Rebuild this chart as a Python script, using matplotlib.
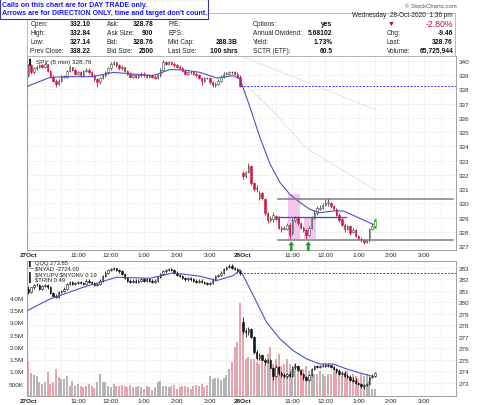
import numpy as np
import matplotlib.pyplot as plt

W, H = 480, 406

# ---------------- SPY 5 min (27 Oct, 78 bars) ----------------
spy1_open = [339.0, 339.7, 339.2, 339.5, 339.6, 339.7, 339.6, 339.8, 339.3, 338.9,
             338.6, 338.4, 338.6, 338.9, 338.9, 339.3, 339.6, 339.4, 339.1, 339.2,
             339.0, 339.3, 339.4, 339.2, 339.0, 338.7, 338.5, 338.8, 339.0, 339.2,
             339.5, 339.8, 339.9, 339.7, 339.5, 339.6, 339.3, 339.1, 338.9, 339.0,
             338.9, 339.0, 339.1, 339.0, 338.9, 339.0, 338.9, 338.8, 339.0, 339.4,
             339.9, 339.8, 339.9, 339.8, 339.7, 339.6, 339.5, 339.3, 339.1, 339.2,
             339.2, 339.1, 339.0, 338.8, 338.6, 338.8, 338.8, 338.5, 338.3, 338.4,
             338.6, 338.9, 339.1, 339.1, 339.2, 339.2, 339.1, 338.9]
spy1_high = [339.8, 339.8, 339.6, 339.7, 339.8, 339.8, 339.9, 339.8, 339.4, 339.0,
             338.7, 338.7, 339.0, 339.0, 339.4, 339.7, 339.6, 339.5, 339.3, 339.3,
             339.4, 339.5, 339.5, 339.3, 339.1, 338.8, 338.9, 339.1, 339.3, 339.6,
             339.9, 340.0, 339.9, 339.8, 339.7, 339.6, 339.4, 339.2, 339.1, 339.1,
             339.1, 339.2, 339.2, 339.1, 339.1, 339.1, 339.0, 339.1, 339.5, 340.05,
             340.0, 340.0, 340.0, 339.9, 339.8, 339.7, 339.6, 339.4, 339.3, 339.3,
             339.3, 339.2, 339.1, 338.9, 338.9, 338.9, 338.9, 338.6, 338.5, 338.7,
             339.0, 339.2, 339.2, 339.3, 339.3, 339.3, 339.2, 339.0]
spy1_low = [338.9, 339.1, 339.1, 339.4, 339.5, 339.5, 339.5, 339.2, 338.8, 338.5,
            338.2, 338.3, 338.5, 338.8, 338.8, 339.2, 339.3, 339.0, 339.0, 338.9,
            338.9, 339.2, 339.1, 338.9, 338.6, 338.2, 338.4, 338.7, 338.9, 339.1,
            339.4, 339.7, 339.6, 339.4, 339.4, 339.2, 339.0, 338.8, 338.8, 338.8,
            338.8, 338.9, 338.9, 338.8, 338.8, 338.8, 338.7, 338.7, 338.9, 339.3,
            339.7, 339.7, 339.7, 339.6, 339.5, 339.4, 339.2, 339.0, 339.0, 339.1,
            339.0, 338.9, 338.7, 338.3, 338.5, 338.7, 338.4, 338.15, 338.2, 338.3,
            338.5, 338.8, 339.0, 339.0, 339.1, 339.0, 338.8, 338.2]
spy1_close = [339.7, 339.2, 339.5, 339.6, 339.7, 339.6, 339.8, 339.3, 338.9, 338.6,
              338.4, 338.6, 338.9, 338.9, 339.3, 339.6, 339.4, 339.1, 339.2, 339.0,
              339.3, 339.4, 339.2, 339.0, 338.7, 338.5, 338.8, 339.0, 339.2, 339.5,
              339.8, 339.9, 339.7, 339.5, 339.6, 339.3, 339.1, 338.9, 339.0, 338.9,
              339.0, 339.1, 339.0, 338.9, 339.0, 338.9, 338.8, 339.0, 339.4, 339.9,
              339.8, 339.9, 339.8, 339.7, 339.6, 339.5, 339.3, 339.1, 339.2, 339.2,
              339.1, 339.0, 338.8, 338.6, 338.8, 338.8, 338.5, 338.3, 338.4, 338.6,
              338.9, 339.1, 339.1, 339.2, 339.2, 339.1, 338.9, 338.22]

# ---------------- SPY 5 min (28 Oct, 49 bars up to 1:36 pm) ----------------
spy2_open = [332.1, 331.9, 332.2, 332.6, 331.4, 331.0, 330.4, 330.7, 330.3, 329.3,
             328.8, 328.9, 329.1, 329.0, 328.3, 328.2, 328.2, 328.5, 327.9, 328.8,
             329.0, 328.6, 328.3, 328.1, 327.8, 328.3, 329.0, 329.3, 329.6, 329.7,
             329.9, 330.0, 330.0, 329.8, 329.6, 329.2, 328.9, 328.5, 328.2, 328.4,
             328.0, 328.1, 327.7, 327.5, 327.4, 327.3, 327.4, 328.2, 328.4]
spy2_high = [332.3, 332.3, 332.84, 332.7, 331.5, 331.3, 330.9, 330.8, 330.4, 329.4,
             329.1, 329.4, 329.2, 329.1, 328.4, 328.4, 328.6, 328.6, 329.0, 329.1,
             329.1, 328.7, 328.4, 328.2, 328.4, 329.1, 329.5, 329.8, 329.9, 330.0,
             330.3, 330.4, 330.1, 329.9, 329.7, 329.3, 329.0, 328.6, 328.5, 328.5,
             328.3, 328.2, 327.8, 327.6, 327.5, 327.5, 328.3, 328.6, 328.9]
spy2_low = [331.7, 331.8, 332.1, 331.3, 330.9, 330.8, 330.2, 330.2, 329.2, 328.6,
            328.7, 328.7, 328.8, 328.2, 328.0, 328.1, 328.1, 327.5, 327.8, 328.7,
            328.5, 328.2, 328.0, 327.5, 327.7, 328.2, 328.9, 329.2, 329.5, 329.6,
            329.8, 329.8, 329.7, 329.5, 329.1, 328.7, 328.4, 328.0, 328.1, 327.8,
            327.9, 327.6, 327.4, 327.3, 327.14, 327.2, 327.3, 328.1, 328.3]
spy2_close = [331.9, 332.2, 332.6, 331.4, 331.0, 331.1, 330.7, 330.4, 329.3, 328.8,
              329.0, 329.2, 328.9, 328.3, 328.2, 328.3, 328.5, 327.8, 328.8, 329.0,
              328.6, 328.3, 328.1, 327.8, 328.3, 329.0, 329.3, 329.7, 329.7, 329.9,
              330.0, 330.1, 329.8, 329.6, 329.2, 328.8, 328.5, 328.2, 328.4, 327.9,
              328.1, 327.7, 327.5, 327.4, 327.3, 327.4, 328.2, 328.4, 328.76]

# moving average of SPY (bar position, price)
spy_ma_x = [-0.4, 7.9, 13.9, 23.6, 30.9, 38.2, 45.4, 51.5, 56.4, 62.4, 68.5, 74.5,
            77.0, 80.6, 84.2, 87.9, 91.5, 95.1, 98.8, 102.4, 106.0, 110.9, 114.5,
            118.2, 121.8, 125.4]
spy_ma_y = [338.22, 338.85, 338.9, 338.9, 339.2, 339.08, 338.97, 339.4, 339.37, 339.2,
            338.8, 338.97, 338.73, 336.74, 334.63, 332.75, 331.46, 330.63, 330.05,
            329.58, 329.34, 329.46, 329.46, 329.15, 328.83, 328.52]
# faint lines in the SPY panel
faint1_x = [77.0, 126.6]
faint1_y = [340.38, 336.55]
faint2_x = [77.0, 89.1, 101.2, 113.3, 126.6]
faint2_y = [338.73, 336.44, 333.85, 332.44, 330.92]

# ---------------- QQQ 5 min ----------------
qqq1_open = [281.2, 280.9, 281.3, 281.5, 281.5, 281.2, 281.4, 281.5, 281.3, 280.8,
             280.6, 280.5, 280.9, 281.0, 281.2, 281.6, 281.8, 281.6, 281.7, 281.8,
             281.7, 281.6, 281.9, 281.8, 281.7, 281.5, 281.6, 281.9, 282.3, 282.6,
             282.8, 282.9, 283.0, 282.8, 282.7, 282.5, 282.1, 281.9, 281.8, 281.9,
             281.8, 281.9, 282.0, 281.9, 282.0, 281.9, 281.8, 281.9, 282.2, 282.5,
             282.7, 282.8, 282.9, 282.8, 282.6, 282.4, 282.3, 282.1, 282.0, 282.1,
             282.0, 281.9, 281.8, 281.9, 281.8, 281.7, 281.6, 281.7, 282.0, 282.3,
             282.4, 282.6, 282.9, 283.1, 283.2, 283.0, 282.9, 282.7]
qqq1_high = [281.4, 281.3, 281.6, 281.7, 281.6, 281.5, 281.6, 281.6, 281.4, 280.9,
             280.7, 281.0, 281.1, 281.3, 281.7, 281.9, 281.9, 281.8, 281.9, 281.9,
             281.8, 282.0, 282.0, 281.9, 281.8, 281.7, 282.0, 282.4, 282.7, 282.9,
             283.0, 283.1, 283.0, 282.9, 282.8, 282.6, 282.2, 282.0, 282.0, 282.0,
             282.0, 282.1, 282.1, 282.1, 282.1, 282.0, 282.0, 282.3, 282.6, 282.8,
             282.9, 283.0, 283.0, 282.9, 282.7, 282.5, 282.4, 282.2, 282.2, 282.2,
             282.1, 282.0, 282.0, 282.0, 281.9, 281.8, 281.8, 282.1, 282.4, 282.5,
             282.7, 283.0, 283.2, 283.3, 283.3, 283.1, 283.0, 282.8]
qqq1_low = [280.7, 280.8, 281.2, 281.4, 281.1, 281.1, 281.3, 281.2, 280.7, 280.5,
            280.35, 280.4, 280.8, 280.9, 281.1, 281.5, 281.5, 281.5, 281.6, 281.6,
            281.5, 281.5, 281.7, 281.6, 281.4, 281.4, 281.5, 281.8, 282.2, 282.5,
            282.7, 282.8, 282.7, 282.6, 282.4, 282.0, 281.8, 281.7, 281.7, 281.7,
            281.7, 281.8, 281.8, 281.8, 281.8, 281.7, 281.7, 281.8, 282.1, 282.4,
            282.6, 282.7, 282.7, 282.5, 282.3, 282.2, 282.0, 281.9, 281.9, 281.9,
            281.8, 281.7, 281.7, 281.7, 281.6, 281.5, 281.5, 281.6, 281.9, 282.2,
            282.3, 282.5, 282.8, 283.0, 282.9, 282.8, 282.6, 282.4]
qqq1_close = [280.9, 281.3, 281.5, 281.5, 281.2, 281.4, 281.5, 281.3, 280.8, 280.6,
              280.5, 280.9, 281.0, 281.2, 281.6, 281.8, 281.6, 281.7, 281.8, 281.7,
              281.6, 281.9, 281.8, 281.7, 281.5, 281.6, 281.9, 282.3, 282.6, 282.8,
              282.9, 283.0, 282.8, 282.7, 282.5, 282.1, 281.9, 281.8, 281.9, 281.8,
              281.9, 282.0, 281.9, 282.0, 281.9, 281.8, 281.9, 282.2, 282.5, 282.7,
              282.8, 282.9, 282.8, 282.6, 282.4, 282.3, 282.1, 282.0, 282.1, 282.0,
              281.9, 281.8, 281.9, 281.8, 281.7, 281.6, 281.7, 282.0, 282.3, 282.4,
              282.6, 282.9, 283.1, 283.2, 283.0, 282.9, 282.7, 282.57]

qqq2_open = [278.3, 277.5, 277.4, 277.7, 277.0, 275.7, 275.2, 275.4, 275.0, 274.8,
             275.0, 274.3, 273.6, 274.4, 273.9, 273.7, 273.6, 273.8, 273.6, 274.4,
             274.5, 274.1, 273.8, 273.5, 273.3, 273.7, 274.2, 274.5, 274.4, 274.5,
             274.6, 274.5, 274.6, 274.4, 274.2, 274.0, 273.8, 273.9, 273.6, 273.5,
             273.3, 273.2, 273.0, 272.9, 272.7, 272.8, 272.9, 273.5, 273.6]
qqq2_high = [278.7, 277.8, 277.9, 277.8, 277.1, 275.9, 275.6, 275.5, 275.2, 275.1,
             275.1, 274.4, 274.6, 274.5, 274.0, 273.9, 273.9, 274.0, 274.5, 274.7,
             274.6, 274.2, 273.9, 273.6, 273.8, 274.3, 274.6, 274.6, 274.6, 274.7,
             274.75, 274.7, 274.6, 274.5, 274.3, 274.2, 274.0, 274.0, 273.8, 273.7,
             273.5, 273.4, 273.1, 273.0, 272.9, 273.0, 273.6, 273.8, 273.95]
qqq2_low = [277.3, 277.0, 277.2, 276.9, 275.5, 275.0, 275.0, 274.9, 274.6, 274.7,
            274.2, 273.3, 273.5, 273.7, 273.5, 273.4, 273.4, 273.5, 273.5, 274.2,
            274.0, 273.7, 273.3, 273.2, 273.2, 273.6, 274.1, 274.3, 274.3, 274.4,
            274.4, 274.4, 274.3, 274.1, 273.9, 273.7, 273.6, 273.5, 273.4, 273.2,
            273.1, 272.9, 272.8, 272.6, 272.5, 272.7, 272.8, 273.4, 273.5]
qqq2_close = [277.5, 277.4, 277.7, 277.0, 275.7, 275.2, 275.4, 275.0, 274.8, 275.0,
              274.3, 273.6, 274.4, 273.9, 273.7, 273.6, 273.8, 273.6, 274.4, 274.5,
              274.1, 273.8, 273.5, 273.3, 273.7, 274.2, 274.5, 274.4, 274.5, 274.6,
              274.5, 274.6, 274.4, 274.2, 274.0, 273.8, 273.9, 273.6, 273.5, 273.3,
              273.2, 273.0, 272.9, 272.7, 272.8, 272.9, 273.5, 273.6, 273.85]

qqq_ma_x = [-0.4, 7.9, 20.0, 32.1, 44.2, 52.7, 62.4, 68.5, 74.5,
            77.0, 81.8, 86.6, 91.5, 96.3, 101.2, 106.0, 110.9, 115.7, 120.6, 125.4]
qqq_ma_y = [279.29, 280.30, 281.32, 282.19, 282.10, 282.57, 282.28, 281.9, 282.33,
            282.85, 280.6, 278.28, 276.83, 275.81, 275.09, 274.65, 274.65, 274.22,
            273.87, 273.58]

# volume in millions
vol1 = [1.43, 0.93, 0.85, 0.83, 0.56, 0.49, 0.56, 0.96, 0.49, 0.55,
        1.10, 0.76, 0.69, 0.69, 0.83, 0.42, 0.62, 0.42, 0.49, 0.42,
        0.35, 0.40, 0.49, 0.42, 0.31, 0.56, 0.90, 0.56, 0.56, 0.42,
        0.35, 0.49, 0.42, 0.42, 0.45, 0.40, 0.35, 0.45, 0.38, 0.35,
        0.42, 0.35, 0.30, 0.42, 0.38, 0.25, 0.38, 0.56, 0.62, 0.42,
        0.40, 0.35, 0.42, 0.45, 0.30, 0.35, 0.40, 0.42, 0.35, 0.30,
        0.40, 0.45, 0.42, 0.50, 0.35, 0.45, 0.83, 0.70, 0.72, 0.75,
        0.65, 0.72, 0.85, 1.10, 1.40, 2.00, 2.20, 3.80]
vol2 = [2.6, 1.5, 1.6, 1.5, 1.5, 1.4, 1.3, 1.4, 1.3, 1.7,
        2.0, 1.3, 1.5, 1.7, 1.2, 1.3, 1.5, 1.3, 1.1, 1.3,
        1.2, 1.0, 1.1, 1.2, 1.0, 1.1, 0.9, 0.9, 1.0, 0.9,
        0.8, 0.9, 0.9, 1.0, 1.1, 0.9, 0.8, 0.9, 1.0, 0.8,
        0.9, 0.8, 0.7, 0.9, 0.8, 0.9, 0.6, 0.3, 0.3]

ticks_pos = [0, 18, 30, 42, 54, 66, 78, 96, 108, 120, 132, 144]
ticks_lab = ['27Oct', '11:00', '12:00', '1:00', '2:00', '3:00',
             '28Oct', '11:00', '12:00', '1:00', '2:00', '3:00']
grid_pos = list(range(0, 156, 6))

spy_prev_close = 338.22
qqq_prev_close = 282.57

plt.rcParams['font.family'] = ['Liberation Sans', 'DejaVu Sans']
fig = plt.figure(figsize=(W / 100, H / 100), dpi=100)


def fx(x):
    return x / W


def fy(y):
    return 1 - y / H


def draw_candles(ax, o, h, l, c, up_face, up_edge, dn_face, dn_edge, width=0.62):
    o, h, l, c = map(np.asarray, (o, h, l, c))
    x = np.arange(len(c))
    dn = c < o
    cols = [dn_edge if d else up_edge for d in dn]
    ax.vlines(x, l, h, colors=cols, lw=0.6, zorder=3)
    lo = np.minimum(o, c)
    hh = np.maximum(np.abs(c - o), 0.03)
    ax.bar(x[dn], hh[dn], bottom=lo[dn], width=width, color=dn_face,
           edgecolor=dn_edge, lw=0.4, zorder=4)
    ax.bar(x[~dn], hh[~dn], bottom=lo[~dn], width=width, color=up_face,
           edgecolor=up_edge, lw=0.4, zorder=4)


def style(ax):
    for s in ax.spines.values():
        s.set_color('#a0a0a0')
        s.set_linewidth(0.7)
    ax.set_xlim(-0.5, 155.5)
    for g in grid_pos:
        ax.axvline(g, color='#d9d9d9', lw=0.5, ls=(0, (1, 1.5)), zorder=0)
    ax.set_xticks(ticks_pos)
    ax.set_xticklabels(ticks_lab, fontsize=4.6)
    for t in ax.get_xticklabels():
        if 'Oct' in t.get_text():
            t.set_fontweight('bold')
    ax.tick_params(axis='x', length=0, pad=1.2, colors='#222222')


# ---------------- top panel ----------------
ax1 = fig.add_axes([fx(27), fy(251), 429 / W, 194 / H])
style(ax1)
ax1.set_ylim(326.72, 340.35)
ax1.yaxis.tick_right()
ax1.set_yticks(range(327, 341))
ax1.tick_params(axis='y', length=0, pad=2, labelsize=4.6, colors='#333333')
for p in range(327, 341):
    ax1.axhline(p, color='#d9d9d9', lw=0.5, ls=(0, (1, 1.5)), zorder=0)

# drawn annotations
ax1.fill_between([94.4, 98.8], 327.47, 330.68, color='#f3c6ee', lw=0, zorder=1)
ax1.fill_between([100.2, 104.6], 327.47, 329.06, color='#f3c6ee', lw=0, zorder=1)
ax1.plot(faint1_x, faint1_y, color='#dcc4cc', lw=0.7, ls=(0, (1, 1)), zorder=1)
ax1.plot(faint2_x, faint2_y, color='#f0b8c4', lw=0.7, ls=(0, (1, 1)), zorder=1)
ax1.plot([77, 155.5], [spy_prev_close] * 2, color='#3a3af0', lw=0.7, ls=(0, (2, 1.5)), zorder=2)

spy_o = spy1_open + spy2_open
spy_h = spy1_high + spy2_high
spy_l = spy1_low + spy2_low
spy_c = spy1_close + spy2_close
draw_candles(ax1, spy_o, spy_h, spy_l, spy_c, 'white', '#444444', '#d6153f', '#d6153f')
ax1.plot(spy_ma_x, spy_ma_y, color='#5050c8', lw=0.8, zorder=5)
ax1.plot([90.8, 154.4], [330.28, 330.28], color='#7f7f7f', lw=1.1, zorder=5)
ax1.plot([90.8, 154.4], [327.4, 327.4], color='#7f7f7f', lw=1.1, zorder=5)
ax1.plot([90.8, 115.5], [329.06, 329.06], color='#4444ee', lw=0.9, zorder=5)
ax1.add_patch(plt.Rectangle((125.6, 328.3), 0.9, 0.6, fill=False, ec='#66cc55', lw=0.6, zorder=6))
for ax_x in (95.6, 101.8):
    ax1.fill([ax_x - 1.1, ax_x, ax_x + 1.1, ax_x + 0.45, ax_x + 0.45, ax_x - 0.45, ax_x - 0.45],
             [327.05, 327.32, 327.05, 327.05, 326.65, 326.65, 327.05],
             color='#1f9a2a', lw=0, zorder=6, clip_on=False)
ax1.text(0.3, 339.95, '\u258c', fontsize=4.2, color='#222222', va='center')
ax1.text(2.6, 339.95, 'SPY (5 min) 328.76', fontsize=4.6, color='#222222', va='center')

# ---------------- bottom panel ----------------
axv = fig.add_axes([fx(27), fy(397), 429 / W, 135 / H])
style(axv)
axv.set_ylim(0, 5.49)
vol = vol1 + vol2
qqq_o = qqq1_open + qqq2_open
qqq_c = qqq1_close + qqq2_close
vcol = ['#eba3ae' if c < o else '#b5b5b5' for o, c in zip(qqq_o, qqq_c)]
axv.bar(np.arange(len(vol)), vol, width=0.8, color=vcol, zorder=1)
axv.set_yticks([0.5, 1, 1.5, 2, 2.5, 3, 3.5, 4])
axv.set_yticklabels(['500K', '1.0M', '1.5M', '2.0M', '2.5M', '3.0M', '3.5M', '4.0M'])
axv.tick_params(axis='y', length=0, pad=2, labelsize=4.6, colors='#333333')

qlo, qhi = 271.87, 283.6
for p in range(273, 284):
    yy = (p - qlo) / (qhi - qlo)
    axv.plot([0, 1], [yy, yy], transform=axv.transAxes, color='#d9d9d9', lw=0.5,
             ls=(0, (1, 1.5)), zorder=0)

axp = axv.twinx()
axp.set_xlim(-0.5, 155.5)
axp.set_ylim(qlo, qhi)
axp.set_yticks(range(273, 284))
axp.tick_params(axis='y', length=0, pad=2, labelsize=4.6, colors='#333333')
for s in axp.spines.values():
    s.set_visible(False)
axp.plot([77, 155.5], [qqq_prev_close] * 2, color='#3a3af0', lw=0.7, ls=(0, (2, 1.5)), zorder=2)
draw_candles(axp, qqq_o, qqq1_high + qqq2_high, qqq1_low + qqq2_low, qqq_c,
             'white', '#111111', '#111111', '#111111', width=0.55)
axp.plot(qqq_ma_x, qqq_ma_y, color='#5050c8', lw=0.8, zorder=5)

leg = ['QQQ 273.85', '\\$NYAD -2724.00', '\\$NYUPV:\\$NYDNV 0.19', '\\$TRIN 0.49']
icons = ['\u258c', '\u2014', '\u258c', '\u258c']
for k, (ic, t) in enumerate(zip(icons, leg)):
    yy = 263.6 + k * 5.6
    fig.text(fx(29), fy(yy), ic, fontsize=3.6, color='#222222', va='center')
    fig.text(fx(35), fy(yy), t, fontsize=4.2, color='#222222', va='center')

# ---------------- header ----------------
hdr = plt.Rectangle((fx(27), fy(57)), 428 / W, 43 / H, transform=fig.transFigure,
                    fill=True, fc='white', ec='#b0b0b0', lw=0.6)
fig.patches.append(hdr)

rows = [24.3, 33.3, 42.7, 51.7]
col1 = [('Open:', '332.10'), ('High:', '332.84'), ('Low:', '327.14'), ('Prev Close:', '338.22')]
col2 = [('Ask:', '328.78'), ('Ask Size:', '900'), ('Bid:', '328.76'), ('Bid Size:', '2500')]
col3 = [('P/E:', ''), ('EPS:', ''), ('Mkt Cap:', '288.3B'), ('Last Size:', '100 shrs')]
col4 = [('Options:', 'yes'), ('Annual Dividend:', '5.68102'), ('Yield:', '1.73%'), ('SCTR (ETF):', '60.5')]
cols = [(col1, 30.5, 90.7), (col2, 106.7, 153.3), (col3, 168.3, 237.3), (col4, 252.7, 332.7)]
for items, xl, xr in cols:
    for (lab, val), yy in zip(items, rows):
        fig.text(fx(xl), fy(yy), lab, fontsize=4.7, color='#222222', va='center')
        fig.text(fx(xr), fy(yy), val, fontsize=4.9, color='#111111', va='center',
                 ha='right', fontweight='bold')

fig.text(fx(453), fy(15.7), 'Wednesday  28-Oct-2020  1:36 pm', fontsize=4.7,
         color='#222222', va='center', ha='right')
fig.text(fx(391.5), fy(24.3), '\u25bc', fontsize=5, color='#a0103a', va='center', ha='center')
fig.text(fx(453), fy(24.5), '-2.80%', fontsize=6.3, color='#b5123e', va='center', ha='right')
for lab, val, yy in [('Chg:', '-9.46', rows[1]), ('Last:', '328.76', rows[2]),
                     ('Volume:', '65,725,944', rows[3])]:
    fig.text(fx(386.7), fy(yy), lab, fontsize=4.7, color='#222222', va='center')
    fig.text(fx(453), fy(yy), val, fontsize=4.9, color='#111111', va='center',
             ha='right', fontweight='bold')

fig.text(fx(457), fy(6), '\u00a9 StockCharts.com', fontsize=4.3, color='#555555',
         va='center', ha='right')

# note box at the top left
note = plt.Rectangle((0, fy(19.5)), 208 / W, 19.5 / H, transform=fig.transFigure,
                     fill=True, fc='white', ec='#3a3a8c', lw=0.8, zorder=10)
fig.patches.append(note)
fig.text(fx(2), fy(5.3), 'Calls on this chart are for DAY TRADE only.', fontsize=5.0,
         color='#1414ff', fontweight='bold', va='center', zorder=11)
fig.text(fx(2), fy(13.8), "Arrows are for DIRECTION ONLY, time and target don't count.",
         fontsize=5.0, color='#1414ff', fontweight='bold', va='center', zorder=11)

fig.savefig('out.png', dpi=100)
